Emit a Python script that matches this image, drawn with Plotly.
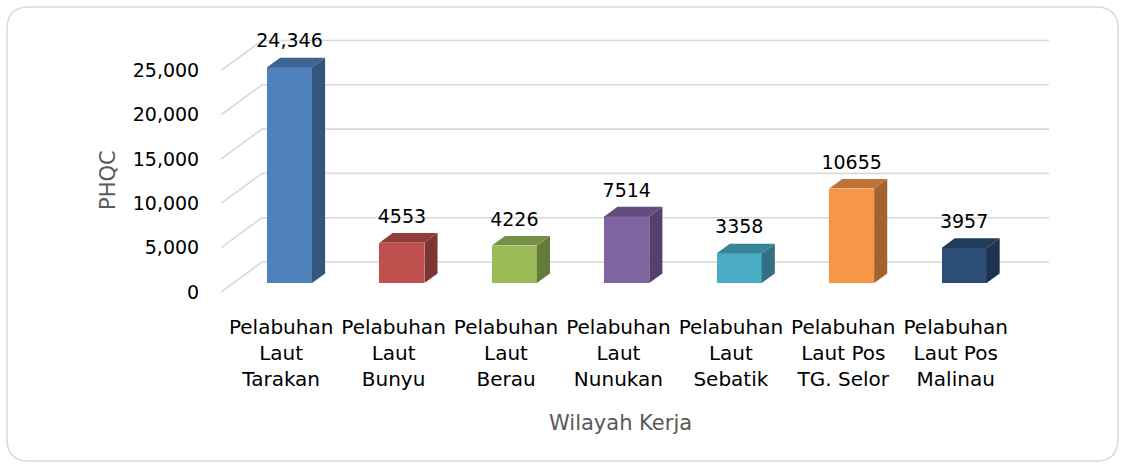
import plotly.graph_objects as go

categories = ["Pelabuhan<br>Laut<br>Tarakan", "Pelabuhan<br>Laut<br>Bunyu", "Pelabuhan<br>Laut<br>Berau",
              "Pelabuhan<br>Laut<br>Nunukan", "Pelabuhan<br>Laut<br>Sebatik", "Pelabuhan<br>Laut Pos<br>TG. Selor",
              "Pelabuhan<br>Laut Pos<br>Malinau"]
values = [24346, 4553, 4226, 7514, 3358, 10655, 3957]
value_labels = ["24,346", "4553", "4226", "7514", "3358", "10655", "3957"]
y_ticks = [0, 5000, 10000, 15000, 20000, 25000]
y_ticktext = ["0", "5,000", "10,000", "15,000", "20,000", "25,000"]

colors = ["#4F81BD", "#C0504D", "#9BBB59", "#8064A2", "#4BACC6", "#F79646", "#2C4D75"]

FONT = "DejaVu Sans"

# pixel geometry
W, H = 1126, 468
L, R_px, T, B_px = 221, 1049, 30, 300
cat_px = 112.4
px_per_unit = 44.3 / 5000.0
DX = 41 / cat_px            # wall depth offset in category units
DY = 30 / px_per_unit       # wall depth offset in value units
F0 = 0.30                   # bar front depth fraction
FD = 0.32                   # bar depth fraction
BW = 0.40                   # bar width
LABEL_GAP = 15 / px_per_unit

ymax = (292 - T) / px_per_unit
ymin = -(B_px - 292) / px_per_unit


def shade(hexc, k):
    r, g, b = int(hexc[1:3], 16), int(hexc[3:5], 16), int(hexc[5:7], 16)
    return "rgb(%d,%d,%d)" % (int(r * k), int(g * k), int(b * k))


fig = go.Figure()

# 3D gridlines (floor diagonal + back wall), below the bars
x0 = -0.5
x1 = len(categories) - 0.5 + DX
for v in y_ticks:
    fig.add_shape(type="path", xref="x", yref="y", layer="below",
                  path="M %f,%f L %f,%f L %f,%f" % (x0, v, x0 + DX, v + DY, x1, v + DY),
                  line=dict(color="#D9D9D9", width=1.6))

base = F0 * DY
ddx = FD * DX
ddy = FD * DY
for i, (v, c) in enumerate(zip(values, colors)):
    xc = i + F0 * DX
    xl, xr = xc - BW / 2, xc + BW / 2
    # front face
    fig.add_trace(go.Bar(x=[xc], y=[v], base=[base], width=[BW], marker=dict(color=c, line=dict(width=0)),
                         hoverinfo="skip", showlegend=False))
    # side face
    fig.add_trace(go.Scatter(x=[xr, xr, xr + ddx, xr + ddx, xr], y=[base, base + v, base + v + ddy, base + ddy, base],
                             mode="lines", fill="toself", fillcolor=shade(c, 0.66), line=dict(width=0, color=shade(c, 0.66)),
                             hoverinfo="skip", showlegend=False))
    # top face
    fig.add_trace(go.Scatter(x=[xl, xr, xr + ddx, xl + ddx, xl], y=[base + v, base + v, base + v + ddy, base + v + ddy, base + v],
                             mode="lines", fill="toself", fillcolor=shade(c, 0.77), line=dict(width=0, color=shade(c, 0.77)),
                             hoverinfo="skip", showlegend=False))
    # data label
    fig.add_trace(go.Scatter(x=[xc], y=[base + v + ddy + LABEL_GAP], mode="text", text=[value_labels[i]],
                             textposition="middle center", textfont=dict(family=FONT, size=19, color="#000000"),
                             hoverinfo="skip", showlegend=False))


def px2paper(px, py):
    return (px - L) / (R_px - L), (B_px - py) / (B_px - T)


# rounded card border
bx0, by0, bx1, by1, rad = 7, 7, 1118, 461, 22
def P(px, py):
    a, b = px2paper(px, py)
    return "%f,%f" % (a, b)
path = ("M " + P(bx0 + rad, by0) + " L " + P(bx1 - rad, by0) + " Q " + P(bx1, by0) + " " + P(bx1, by0 + rad) +
        " L " + P(bx1, by1 - rad) + " Q " + P(bx1, by1) + " " + P(bx1 - rad, by1) +
        " L " + P(bx0 + rad, by1) + " Q " + P(bx0, by1) + " " + P(bx0, by1 - rad) +
        " L " + P(bx0, by0 + rad) + " Q " + P(bx0, by0) + " " + P(bx0 + rad, by0) + " Z")
fig.add_shape(type="path", path=path, xref="paper", yref="paper", line=dict(color="#D9D9D9", width=1.5),
              fillcolor="rgba(0,0,0,0)", layer="below")

ax, ay = px2paper(108, 180)
fig.add_annotation(text="PHQC", x=ax, y=ay, xref="paper", yref="paper", showarrow=False, textangle=-90,
                   font=dict(family=FONT, size=21, color="#595959"), xanchor="center", yanchor="middle")
ax, ay = px2paper(620, 423)
fig.add_annotation(text="Wilayah Kerja", x=ax, y=ay, xref="paper", yref="paper", showarrow=False,
                   font=dict(family=FONT, size=21, color="#595959"), xanchor="center", yanchor="middle")

fig.update_layout(
    width=W, height=H,
    margin=dict(l=L, r=W - R_px, t=T, b=H - B_px),
    paper_bgcolor="white", plot_bgcolor="white",
    font=dict(family=FONT, size=19, color="#000000"),
    xaxis=dict(range=[x0, x1], tickvals=[i + 0.035 for i in range(len(categories))], ticktext=categories,
               showgrid=False, zeroline=False, showline=False, ticks="outside", ticklen=9,
               tickcolor="rgba(0,0,0,0)", tickfont=dict(family=FONT, size=20, color="#000000"),
               fixedrange=True, automargin=False),
    yaxis=dict(range=[ymin, ymax], tickvals=y_ticks, ticktext=y_ticktext, showgrid=False, zeroline=False,
               showline=False, ticks="outside", ticklen=17, tickcolor="rgba(0,0,0,0)",
               tickfont=dict(family=FONT, size=19, color="#000000"), fixedrange=True, automargin=False),
    bargap=0,
)

fig.write_html("out.html", config={"displayModeBar": False},
               post_script="document.body.style.margin='0';document.body.style.overflow='hidden';")
